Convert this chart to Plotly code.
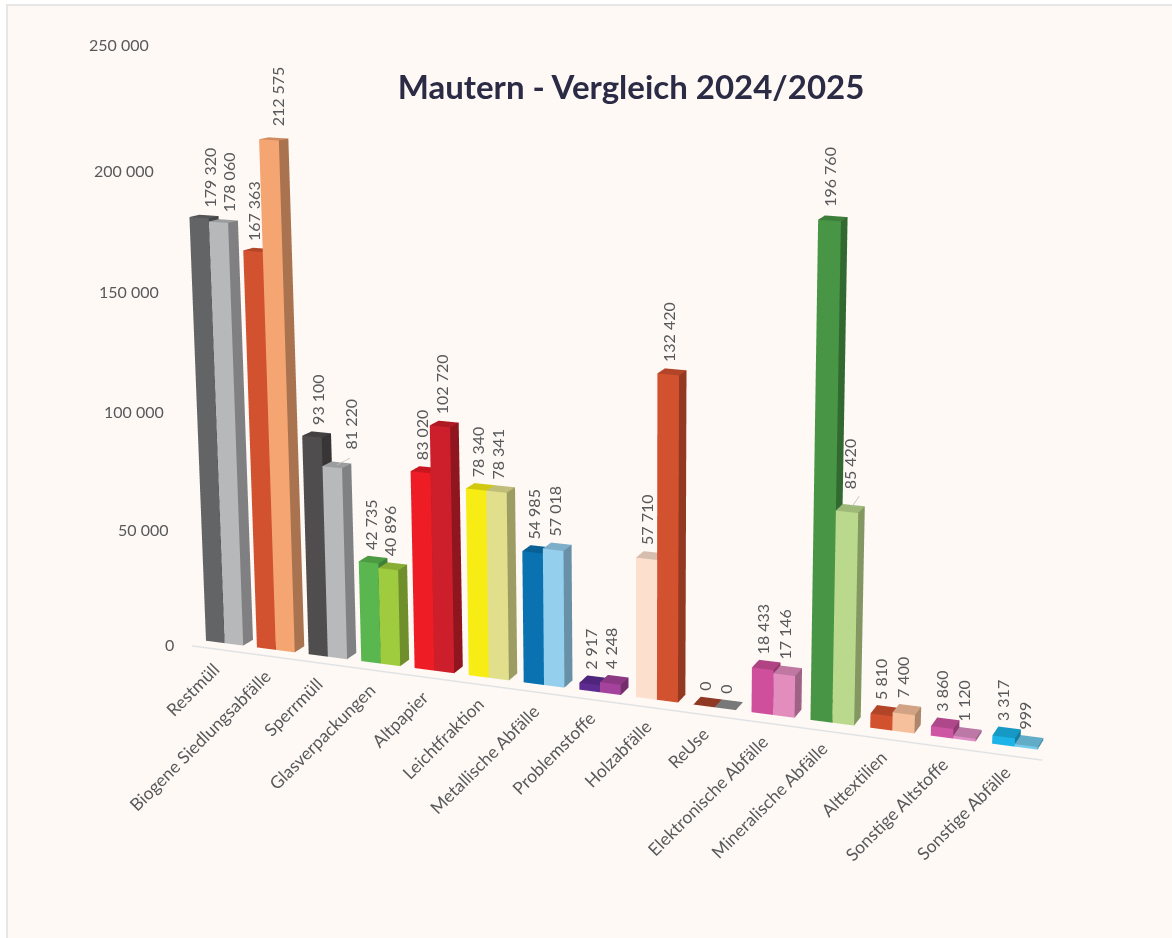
import math
import plotly.graph_objects as go

categories = ["Restmüll", "Biogene Siedlungsabfälle", "Sperrmüll", "Glasverpackungen", "Altpapier",
              "Leichtfraktion", "Metallische Abfälle", "Problemstoffe", "Holzabfälle", "ReUse",
              "Elektronische Abfälle", "Mineralische Abfälle", "Alttextilien", "Sonstige Altstoffe",
              "Sonstige Abfälle"]
values_2024 = [179320, 167363, 93100, 42735, 83020, 78340, 54985, 2917, 57710, 0, 18433, 196760, 5810, 3860, 3317]
values_2025 = [178060, 212575, 81220, 40896, 102720, 78341, 57018, 4248, 132420, 0, 17146, 85420, 7400, 1120, 999]
colors_2024 = ["#636466", "#D25230", "#4F4D4E", "#5AB74F", "#EE1C25", "#F7EC13", "#0A72B0", "#5E2C91",
               "#FCDFCC", "#A9432B", "#D04F9C", "#489645", "#D25230", "#CE55A3", "#1CB4E8"]
colors_2025 = ["#B7B8BA", "#F4A572", "#B8B9BB", "#9FCC3F", "#CD1E2B", "#E1DF8C", "#95CFEE", "#A5429B",
               "#D25230", "#8E8E8E", "#E38CBE", "#BAD98D", "#F7C09C", "#DE8EC4", "#75CBEC"]
axis_ticks = [0, 50000, 100000, 150000, 200000, 250000]
title = "Mautern - Vergleich 2024/2025"

TEXT = "#58595B"
FONT = "Lato"
PSI = math.radians(20.5)
THETA = math.radians(20.5)
PITCH = 50.55
CURVE = 0.4
PX_PER_VALUE = 0.00236
DEPTH_PX = 21
SREF = 469.0
EYE = 2.0
XC, XH = 380 / PITCH, 18
ZC, ZH = 93850, 250000
BAR = 0.366
tick_nudge = [-1, -1, -1, -2, -4, -4]


def fmt(v):
    return f"{v:,}".replace(",", " ")


def place(s, d, v):
    """Position in data space of a point: category position s, depth d, value v (gentle taper)."""
    xb = PITCH * s + CURVE * s * s
    h = PX_PER_VALUE * (1 + 0.0065 * s) * v * (0.96 + 0.23e-6 * v)
    lean = 9e-5 * (206 + xb - 640) * h
    extra_x = d * ((10 - 0.29 * s) - DEPTH_PX * math.sin(PSI))
    extra_up = d * ((6 + 0.2 * s - 0.008 * h) - DEPTH_PX * math.cos(PSI) * math.sin(THETA))
    extra_up += lean * math.tan(PSI) * math.sin(THETA)
    return (xb + lean + extra_x) / PITCH, d, (h + extra_up) / PX_PER_VALUE


def shade(hex_color, f):
    r, g, b = int(hex_color[1:3], 16), int(hex_color[3:5], 16), int(hex_color[5:7], 16)
    return f"rgb({int(r * f)},{int(g * f)},{int(b * f)})"


def bar_trace(s0, s1, v, color):
    corners = [(s0, 0, 0), (s1, 0, 0), (s1, 1, 0), (s0, 1, 0), (s0, 0, v), (s1, 0, v), (s1, 1, v), (s0, 1, v)]
    pts = [place(*c) for c in corners]
    faces = [(0, 1, 5), (0, 5, 4), (1, 2, 6), (1, 6, 5), (4, 5, 6), (4, 6, 7), (0, 3, 7), (0, 7, 4), (3, 2, 6), (3, 6, 7)]
    fc = [color, color, shade(color, .7), shade(color, .7), shade(color, .85), shade(color, .85),
          color, color, shade(color, .7), shade(color, .7)]
    return go.Mesh3d(x=[p[0] for p in pts], y=[p[1] for p in pts], z=[p[2] for p in pts],
                     i=[f[0] for f in faces], j=[f[1] for f in faces], k=[f[2] for f in faces],
                     facecolor=fc, flatshading=True, hoverinfo="skip", showscale=False,
                     lighting=dict(ambient=1, diffuse=0, specular=0, roughness=1, fresnel=0))


def line_trace(points, color, width):
    return go.Scatter3d(x=[p[0] for p in points], y=[p[1] for p in points], z=[p[2] for p in points],
                        mode="lines", line=dict(color=color, width=width), hoverinfo="skip", showlegend=False)


fig = go.Figure()
annotations = []


def note(s, d, v, text, size=16, **kw):
    x, y, z = place(s, d, v)
    base = dict(x=x, y=y, z=z, text=text, showarrow=False, font=dict(family=FONT, size=size, color=TEXT))
    base.update(kw)
    annotations.append(base)


special = {(1, 0): dict(xshift=-9), (2, 1): dict(xshift=8, yshift=11), (4, 0): dict(xshift=-8),
           (11, 1): dict(xshift=-4, yshift=14)}
for i, cat in enumerate(categories):
    fig.add_trace(bar_trace(i, i + BAR, values_2024[i], colors_2024[i]))
    fig.add_trace(bar_trace(i + BAR, i + 2 * BAR, values_2025[i], colors_2025[i]))
    for k, v in enumerate((values_2024[i], values_2025[i])):
        kw = dict(textangle=-90, xanchor="center", yanchor="bottom",
                  yshift=5 + max(0, (v - 170000) / 10000), xshift=-min(7, 0.8 * i * i))
        kw.update(special.get((i, k), {}))
        note(i + BAR * (k + .5), 1, v, fmt(v), **kw)
    note(i + BAR, 0, 0, cat, size=17.5, textangle=-45, xanchor="right", yanchor="top", yshift=-13, xshift=2)

for t, nudge in zip(axis_ticks, tick_nudge):
    note(-0.4, -1, t, fmt(t), xanchor="right", yanchor="middle", yshift=nudge)

fig.add_trace(line_trace([place(-0.08, -1, 0), place(14.9, -1, 0)], "#E0E3E6", 3))
fig.add_trace(line_trace([place(2 + 1.5 * BAR, 0.5, values_2025[2]), place(2 + 1.5 * BAR + 0.25, 0.5, values_2025[2] + 3400)],
                         "#BDBDBD", 1.5))
fig.add_trace(line_trace([place(11 + 1.5 * BAR, 0.7, values_2025[11]), place(11 + 1.5 * BAR + 0.12, 0.7, values_2025[11] + 4600)],
                         "#BDBDBD", 1.5))

hidden = dict(visible=False, showgrid=False, zeroline=False, showspikes=False, showbackground=False)
eye = dict(x=EYE * math.sin(PSI) * math.cos(THETA), y=-EYE * math.cos(PSI) * math.cos(THETA), z=EYE * math.sin(THETA))
fig.update_layout(
    width=1172, height=938, margin=dict(l=0, r=0, t=0, b=0), paper_bgcolor="#FFFFFF", showlegend=False,
    title=dict(text=f"<b>{title}</b>", x=631 / 1172, xanchor="center", y=1 - 87 / 938, yanchor="middle",
               font=dict(family=FONT, size=33, color="#2B2B45")),
    shapes=[dict(type="rect", xref="paper", yref="paper", x0=7 / 1172, x1=1.01, y0=-0.01, y1=1 - 5 / 938,
                 fillcolor="#FFF9F5", line=dict(color="#E6E6E6", width=2), layer="below")],
    scene=dict(
        domain=dict(x=[0, 1], y=[0, 1]),
        bgcolor="rgba(0,0,0,0)",
        xaxis=dict(range=[XC - XH, XC + XH], **hidden),
        yaxis=dict(range=[-4, 4], **hidden),
        zaxis=dict(range=[ZC - ZH, ZC + ZH], **hidden),
        aspectmode="manual",
        aspectratio=dict(x=2 * XH * PITCH / math.cos(PSI) / SREF, y=8 * DEPTH_PX / SREF,
                         z=2 * ZH * PX_PER_VALUE / math.cos(THETA) / SREF),
        camera=dict(eye=eye, center=dict(x=0, y=0, z=0), up=dict(x=0, y=0, z=1),
                    projection=dict(type="orthographic")),
        annotations=annotations,
        dragmode=False,
    ),
)
fig.write_html("out.html", config=dict(displayModeBar=False), post_script="document.body.style.margin='0';")
